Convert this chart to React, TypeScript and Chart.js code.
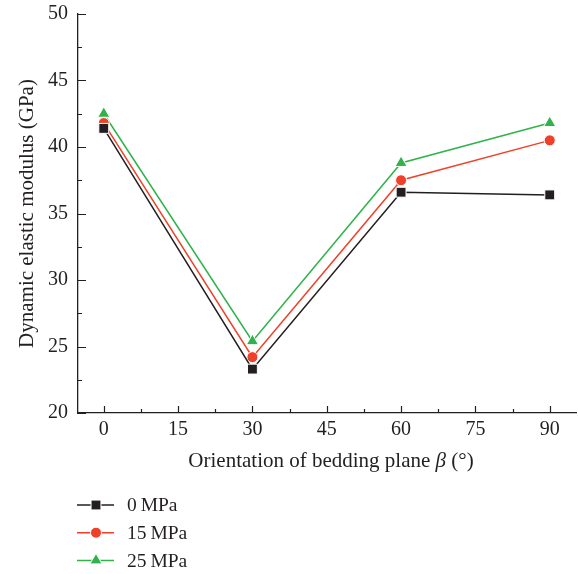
import React, { useEffect, useRef } from "react";
import { Chart, registerables } from "chart.js";

Chart.register(...registerables);

const xValues = [0, 30, 60, 90];
const series0 = [41.4, 23.3, 36.6, 36.4];
const series15 = [41.8, 24.2, 37.5, 40.5];
const series25 = [42.5, 25.4, 38.8, 41.8];
const seriesLabels = ["0\u2009MPa", "15\u2009MPa", "25\u2009MPa"];
const xTicks = [0, 15, 30, 45, 60, 75, 90];
const xMinorTicks = [7.5, 22.5, 37.5, 52.5, 67.5, 82.5];
const yTicks = [20, 25, 30, 35, 40, 45, 50];
const yMinorTicks = [22.5, 27.5, 32.5, 37.5, 42.5, 47.5];

const AXIS = "#231f20";
const BLACK = "#231f20";
const RED = "#ef4129";
const GREEN = "#2fb34a";
const FONT = "'Liberation Serif', 'DejaVu Serif', serif";

function drawMarker(ctx: CanvasRenderingContext2D, style: string, x: number, y: number, r: number, color: string) {
  ctx.save();
  ctx.fillStyle = color;
  ctx.strokeStyle = "#ffffff";
  ctx.lineWidth = 1;
  ctx.beginPath();
  if (style === "rect") {
    const s = Math.SQRT1_2 * r;
    ctx.rect(x - s, y - s, 2 * s, 2 * s);
  } else if (style === "circle") {
    ctx.arc(x, y, r, 0, Math.PI * 2);
  } else {
    const h = (Math.sqrt(3) / 2) * r;
    ctx.moveTo(x, y - r);
    ctx.lineTo(x + h, y + r / 2);
    ctx.lineTo(x - h, y + r / 2);
    ctx.closePath();
  }
  ctx.fill();
  ctx.stroke();
  ctx.restore();
}

const customPlugin = {
  id: "customDecor",
  beforeDatasetsDraw(chart: any) {
    const ctx = chart.ctx as CanvasRenderingContext2D;
    const xs = chart.scales.x;
    const ys = chart.scales.y;
    const area = chart.chartArea;
    ctx.save();
    ctx.strokeStyle = AXIS;
    ctx.lineWidth = 1.2;
    ctx.beginPath();
    for (const v of xTicks) {
      const px = Math.round(xs.getPixelForValue(v)) + 0.5;
      ctx.moveTo(px, area.bottom);
      ctx.lineTo(px, area.bottom - 7);
    }
    for (const v of xMinorTicks) {
      const px = Math.round(xs.getPixelForValue(v)) + 0.5;
      ctx.moveTo(px, area.bottom);
      ctx.lineTo(px, area.bottom - 4);
    }
    for (const v of yTicks) {
      const py = Math.round(ys.getPixelForValue(v)) + 0.5;
      ctx.moveTo(area.left, py);
      ctx.lineTo(area.left + 8, py);
    }
    for (const v of yMinorTicks) {
      const py = Math.round(ys.getPixelForValue(v)) + 0.5;
      ctx.moveTo(area.left, py);
      ctx.lineTo(area.left + 4, py);
    }
    ctx.stroke();
    ctx.restore();
  },
  afterDraw(chart: any) {
    const ctx = chart.ctx as CanvasRenderingContext2D;
    const area = chart.chartArea;
    ctx.save();
    const parts = [
      { t: "Orientation of bedding plane ", f: `21px ${FONT}` },
      { t: "\u03B2", f: `italic 21px ${FONT}` },
      { t: " (\u00B0)", f: `21px ${FONT}` },
    ];
    let total = 0;
    for (const p of parts) {
      ctx.font = p.f;
      total += ctx.measureText(p.t).width;
    }
    let cx = 331 - total / 2;
    const ty = area.bottom + 48;
    ctx.fillStyle = AXIS;
    ctx.textBaseline = "middle";
    ctx.textAlign = "left";
    for (const p of parts) {
      ctx.font = p.f;
      ctx.fillText(p.t, cx, ty);
      cx += ctx.measureText(p.t).width;
    }
    const styles = ["rect", "circle", "triangle"];
    const radii = [7, 5.5, 7];
    chart.data.datasets.forEach((ds: any, i: number) => {
      const y = area.bottom + 92 + i * 27.7;
      ctx.strokeStyle = ds.borderColor;
      ctx.lineWidth = 1.5;
      ctx.beginPath();
      ctx.moveTo(77, y);
      ctx.lineTo(114, y);
      ctx.stroke();
      drawMarker(ctx, styles[i], 96, y, radii[i], ds.borderColor);
      ctx.fillStyle = AXIS;
      ctx.font = `19.5px ${FONT}`;
      ctx.textBaseline = "middle";
      ctx.fillText(ds.label, 127, y + 1);
    });
    ctx.restore();
  },
};

export default function App() {
  const ref = useRef<HTMLCanvasElement | null>(null);
  useEffect(() => {
    document.body.style.margin = "0";
    const canvas = ref.current;
    if (!canvas) return;
    const mk = (label: string, data: number[], color: string, style: string, r: number) => ({
      label,
      data: xValues.map((x, i) => ({ x, y: data[i] })),
      borderColor: color,
      backgroundColor: color,
      pointBackgroundColor: color,
      pointBorderColor: "#ffffff",
      pointBorderWidth: 1,
      pointStyle: style,
      pointRadius: r,
      pointHoverRadius: r,
      borderWidth: 1.5,
      tension: 0,
      fill: false,
    });
    const chart = new Chart(canvas, {
      type: "line",
      data: {
        datasets: [
          mk(seriesLabels[0], series0, BLACK, "rect", 7),
          mk(seriesLabels[1], series15, RED, "circle", 5.5),
          mk(seriesLabels[2], series25, GREEN, "triangle", 7),
        ],
      },
      options: {
        animation: false,
        responsive: false,
        layout: { autoPadding: false, padding: { left: 0, right: 2, top: 14, bottom: 121 } },
        plugins: {
          legend: { display: false },
          tooltip: { enabled: false },
        },
        scales: {
          x: {
            type: "linear",
            min: -5.2,
            max: 95.3,
            afterBuildTicks: (s: any) => {
              s.ticks = xTicks.map((v) => ({ value: v }));
            },
            afterFit: (s: any) => {
              s.height = 40;
              s.paddingLeft = 0;
              s.paddingRight = 0;
            },
            grid: { display: false, drawTicks: false },
            border: { display: true, color: AXIS, width: 1.3 },
            ticks: {
              padding: 5,
              color: AXIS,
              font: { family: FONT, size: 20 },
              maxRotation: 0,
              autoSkip: false,
            },
          },
          y: {
            type: "linear",
            min: 20,
            max: 50,
            afterBuildTicks: (s: any) => {
              s.ticks = yTicks.map((v) => ({ value: v }));
            },
            afterFit: (s: any) => {
              s.width = 78;
              s.paddingTop = 0;
              s.paddingBottom = 0;
            },
            grid: { display: false, drawTicks: false },
            border: { display: true, color: AXIS, width: 1.3 },
            ticks: {
              padding: 10,
              color: AXIS,
              font: { family: FONT, size: 20 },
            },
            title: {
              display: true,
              text: "Dynamic elastic modulus (GPa)",
              color: AXIS,
              font: { family: FONT, size: 21 },
              padding: { top: 15, bottom: 0 },
            },
          },
        },
      },
      plugins: [customPlugin],
    });
    return () => chart.destroy();
  }, []);
  return (
    <div style={{ width: 578, height: 574 }}>
      <canvas ref={ref} width={578} height={574} />
    </div>
  );
}
